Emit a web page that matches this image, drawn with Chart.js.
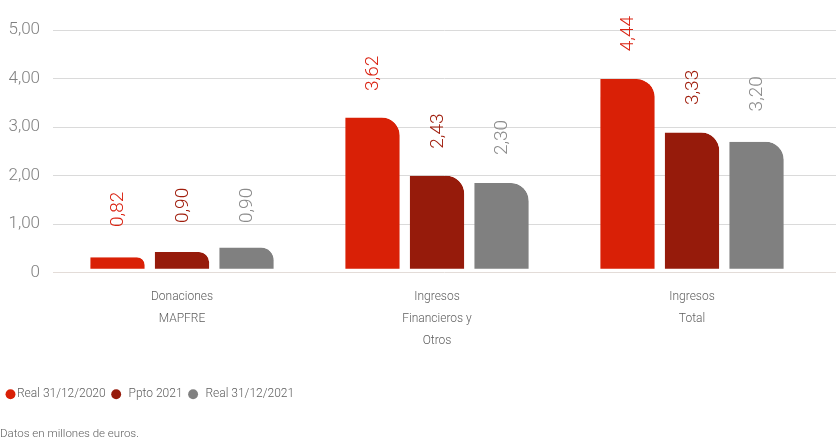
<!DOCTYPE html>
<html><head><meta charset="utf-8">
<script src="https://cdn.jsdelivr.net/npm/chart.js@4.4.0/dist/chart.umd.min.js"></script>
<style>html,body{margin:0;padding:0;background:#fff;}canvas{display:block;}</style>
</head><body>
<canvas id="c" width="836" height="441"></canvas>
<script>
// ---- data ----
const categories = [['Donaciones', 'MAPFRE'], ['Ingresos', 'Financieros y', 'Otros'], ['Ingresos', 'Total']];
const seriesNames = ['Real 31/12/2020', 'Ppto 2021', 'Real 31/12/2021'];
// bar heights as drawn in the picture
const barReal2020 = [0.32, 3.20, 3.99];
const barPpto2021 = [0.43, 2.00, 2.89];
const barReal2021 = [0.52, 1.85, 2.70];
// printed value labels
const labelReal2020 = [0.82, 3.62, 4.44];
const labelPpto2021 = [0.90, 2.43, 3.33];
const labelReal2021 = [0.90, 2.30, 3.20];
const yTickLabels = ['0', '1,00', '2,00', '3,00', '4,00', '5,00'];
const footnote = 'Datos en millones de euros.';

const FONT = "Roboto, 'DejaVu Sans Condensed', sans-serif";
Chart.defaults.font.family = FONT;
Chart.defaults.font.weight = '300';

const barColors = ['#d92006', '#961b0b', '#808080'];
const labelColors = ['#da2312', '#a01e0d', '#8c8c8c'];

function drawGrid(chart, zeroOnly) {
  const {ctx, chartArea} = chart;
  const y = chart.scales.y;
  ctx.save();
  ctx.lineWidth = 1;
  y.ticks.forEach(t => {
    if ((t.value === 0) !== zeroOnly) return;
    const py = Math.floor(y.getPixelForValue(t.value)) + 0.5;
    ctx.strokeStyle = t.value === 0 ? '#e3dcd8' : '#dadada';
    ctx.beginPath();
    ctx.moveTo(chartArea.left - 1.5, py);
    ctx.lineTo(chart.width, py);
    ctx.stroke();
  });
  ctx.restore();
}

const gridPlugin = {
  id: 'fullGrid',
  beforeDatasetsDraw(chart) { drawGrid(chart, false); },
  afterDatasetsDraw(chart) { drawGrid(chart, true); }
};

const labelPlugin = {
  id: 'valueLabels',
  afterDatasetsDraw(chart) {
    const {ctx} = chart;
    const y = chart.scales.y;
    chart.data.datasets.forEach((ds, di) => {
      const meta = chart.getDatasetMeta(di);
      meta.data.forEach((bar, i) => {
        const v = ds.labelValues[i];
        const txt = v.toFixed(2).replace('.', ',');
        ctx.save();
        ctx.translate(bar.x, y.getPixelForValue(v) - 6);
        ctx.rotate(-Math.PI / 2);
        ctx.font = "300 19px " + FONT;
        ctx.fillStyle = labelColors[di];
        ctx.textAlign = 'left';
        ctx.textBaseline = 'middle';
        ctx.fillText(txt, 0, 1);
        ctx.restore();
      });
    });
  }
};

function makeDataset(i, values, labels) {
  return {
    label: seriesNames[i],
    data: values,
    labelValues: labels,
    backgroundColor: barColors[i],
    borderColor: '#ffffff',
    borderWidth: {top: 0, left: 0, right: 0, bottom: 4},
    borderSkipped: false,
    borderRadius: {topRight: 18, topLeft: 0, bottomLeft: 0, bottomRight: 0},
    categoryPercentage: 0.759,
    barPercentage: 0.845
  };
}

new Chart(document.getElementById('c'), {
  type: 'bar',
  data: {
    labels: categories,
    datasets: [
      makeDataset(0, barReal2020, labelReal2020),
      makeDataset(1, barPpto2021, labelPpto2021),
      makeDataset(2, barReal2021, labelReal2021)
    ]
  },
  options: {
    responsive: false,
    animation: false,
    layout: {padding: {top: 30, right: 16.5, left: 0, bottom: 0}},
    scales: {
      x: {
        grid: {display: false, drawTicks: false},
        border: {display: false},
        ticks: {color: '#5e5e5e', font: {size: 12, lineHeight: 22 / 12}, padding: 13.5, maxRotation: 0, autoSkip: false},
        afterFit(s) { s.height = 105.4; }
      },
      y: {
        min: 0, max: 5,
        grid: {display: false, drawTicks: false},
        border: {display: false},
        ticks: {stepSize: 1, padding: 14.5, color: '#808080', font: {size: 17},
          callback: (v, i) => yTickLabels[i]},
        afterFit(s) { s.width = 54.5; }
      }
    },
    plugins: {
      tooltip: {enabled: false},
      legend: {
        position: 'bottom', align: 'start',
        labels: {
          usePointStyle: true, pointStyle: 'circle',
          boxWidth: 1, boxHeight: 7, padding: 10,
          color: '#5e5e5e', font: {size: 12},
          generateLabels(chart) {
            return chart.data.datasets.map((ds, i) => ({
              text: (i > 0 ? '  ' : '') + ds.label,
              fillStyle: barColors[i], strokeStyle: barColors[i], lineWidth: 0,
              pointStyle: 'circle', hidden: false, datasetIndex: i, fontColor: '#5e5e5e'
            }));
          }
        }
      },
      subtitle: {
        display: true, text: footnote, position: 'bottom', align: 'start',
        color: '#5e5e5e', font: {size: 11.5, lineHeight: 1.2, weight: '300'},
        padding: {top: 17, bottom: 0}
      }
    }
  },
  plugins: [gridPlugin, labelPlugin]
});
</script>
</body></html>
